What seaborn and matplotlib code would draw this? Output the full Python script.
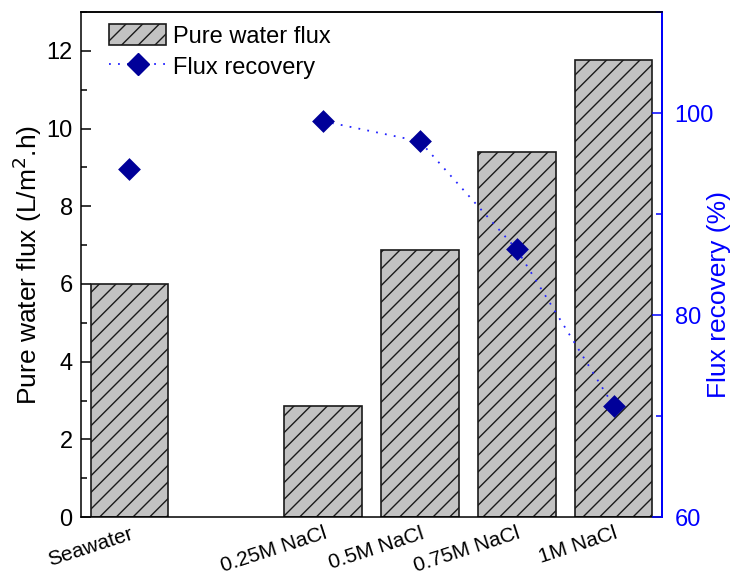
import matplotlib
matplotlib.use("Agg")
import matplotlib.pyplot as plt
from matplotlib.lines import Line2D
from matplotlib.patches import Patch
from matplotlib.ticker import MultipleLocator
import seaborn as sns

# Feed solutions and measured values
categories = ["Seawater", "0.25M NaCl", "0.5M NaCl", "0.75M NaCl", "1M NaCl"]
pure_water_flux = [6.0, 2.85, 6.88, 9.4, 11.78]      # L/m2.h
flux_recovery = [94.5, 99.2, 97.2, 86.5, 71.0]       # %

sns.set_theme(style="ticks")
plt.rcParams["font.family"] = ["Liberation Sans", "DejaVu Sans"]
plt.rcParams["hatch.linewidth"] = 1.0
plt.rcParams["hatch.color"] = "black"
plt.rcParams["text.color"] = "black"
plt.rcParams["axes.labelcolor"] = "black"
plt.rcParams["xtick.color"] = "black"
plt.rcParams["ytick.color"] = "black"

BAR_FACE = "#c2c2c2"
LINE_BLUE = "#2424ff"
MARK_BLUE = "#000099"
AXIS_BLUE = "#0000ff"

fig = plt.figure(figsize=(7.36, 5.78), dpi=100)
ax = fig.add_axes([0.110, 0.1055, 0.7895, 0.8735])

# one empty slot separates seawater from the NaCl series
order = categories[:1] + [""] + categories[1:]
xpos = [order.index(c) for c in categories]

sns.barplot(x=categories, y=pure_water_flux, order=order, ax=ax,
            color=BAR_FACE, saturation=1, width=0.8,
            edgecolor="#1a1a1a", linewidth=1.2, hatch="//")

ax.set_ylim(0, 13)
ax.set_xlim(-0.5, 5.5)
ax.yaxis.set_major_locator(MultipleLocator(2))
ax.yaxis.set_minor_locator(MultipleLocator(1))
ax.tick_params(axis="y", which="major", direction="in", length=7, width=1.1,
               labelsize=17, color="black", pad=6)
ax.tick_params(axis="y", which="minor", direction="in", length=4, width=1.1)
ax.tick_params(axis="x", length=0, labelsize=15, pad=5)
ax.set_xticks(range(len(order)))
ax.set_xticklabels(order, rotation=18, ha="right", rotation_mode="anchor")
ax.set_xlabel("")
ax.set_ylabel("Pure water flux (L/m$^2$.h)", fontsize=19)
ax.yaxis.set_label_coords(-0.064, 0.5)
for side in ["left", "bottom", "top", "right"]:
    ax.spines[side].set_linewidth(1.1)
    ax.spines[side].set_color("black")

# flux recovery on a secondary axis
ax2 = ax.twinx()
sns.lineplot(x=xpos[1:], y=flux_recovery[1:], ax=ax2, color=LINE_BLUE,
             linewidth=1.3, linestyle=(0, (1, 4)), zorder=3)
sns.scatterplot(x=xpos, y=flux_recovery, ax=ax2, marker="D", s=135,
                color=MARK_BLUE, edgecolor=MARK_BLUE, linewidth=0, zorder=4)
ax2.set_ylim(60, 110)
ax2.set_xlim(-0.5, 5.5)
ax2.yaxis.set_major_locator(MultipleLocator(20))
ax2.yaxis.set_minor_locator(MultipleLocator(10))
ax2.tick_params(axis="y", which="major", direction="in", length=7, width=1.1,
                labelsize=17, colors=AXIS_BLUE, pad=9)
ax2.tick_params(axis="y", which="minor", direction="in", length=4, width=1.1,
                colors=AXIS_BLUE)
ax2.set_ylabel("Flux recovery (%)", fontsize=19, color=AXIS_BLUE)
ax2.yaxis.set_label_coords(1.077, 0.44)
ax2.spines["right"].set_color(AXIS_BLUE)
ax2.spines["right"].set_linewidth(1.4)
ax2.spines["top"].set_linewidth(1.1)
ax2.spines["top"].set_color("black")
ax2.spines["left"].set_visible(False)
ax2.spines["bottom"].set_visible(False)

handles = [
    Patch(facecolor=BAR_FACE, edgecolor="#1a1a1a", hatch="//", linewidth=1.2),
    Line2D([], [], color=LINE_BLUE, linewidth=1.3, linestyle=(0, (1, 4)),
           marker="D", markersize=11.5, markerfacecolor=MARK_BLUE,
           markeredgecolor=MARK_BLUE),
]
ax2.legend(handles, ["Pure water flux", "Flux recovery"], loc="upper left",
           bbox_to_anchor=(0.012, 1.018), frameon=False, fontsize=17,
           handlelength=2.4, handleheight=1.0, handletextpad=0.3,
           labelspacing=0.3)

fig.savefig("out.png", dpi=100)
